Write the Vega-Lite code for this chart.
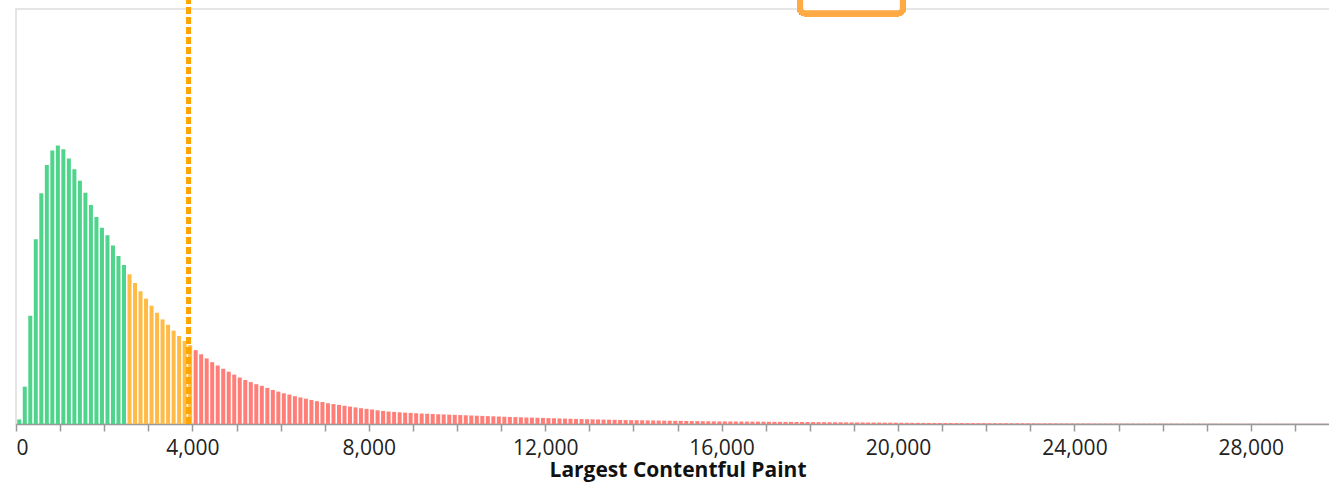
{
  "$schema": "https://vega.github.io/schema/vega-lite/v6.json",
  "autosize": {"type": "none"},
  "padding": {"left": 16, "top": 9, "right": 0, "bottom": 66},
  "width": 1323,
  "height": 415,
  "background": "white",
  "config": {
    "font": "Open Sans",
    "view": {"stroke": "#dddddd", "strokeWidth": 1.5},
    "axis": {"grid": false}
  },
  "data": {"values": [
    {"s":0,"v":1.1,"c":"Good"},{"s":125,"v":9.0,"c":"Good"},{"s":250,"v":26.1,"c":"Good"},{"s":375,"v":44.5,"c":"Good"},
    {"s":500,"v":55.6,"c":"Good"},{"s":625,"v":62.4,"c":"Good"},{"s":750,"v":65.9,"c":"Good"},{"s":875,"v":67.1,"c":"Good"},
    {"s":1000,"v":66.2,"c":"Good"},{"s":1125,"v":64.0,"c":"Good"},{"s":1250,"v":61.4,"c":"Good"},{"s":1375,"v":58.6,"c":"Good"},
    {"s":1500,"v":55.7,"c":"Good"},{"s":1625,"v":52.8,"c":"Good"},{"s":1750,"v":49.9,"c":"Good"},{"s":1875,"v":47.3,"c":"Good"},
    {"s":2000,"v":45.5,"c":"Good"},{"s":2125,"v":43.0,"c":"Good"},{"s":2250,"v":40.5,"c":"Good"},{"s":2375,"v":38.3,"c":"Good"},
    {"s":2500,"v":36.1,"c":"NI"},{"s":2625,"v":34.0,"c":"NI"},{"s":2750,"v":32.0,"c":"NI"},{"s":2875,"v":30.2,"c":"NI"},
    {"s":3000,"v":28.5,"c":"NI"},{"s":3125,"v":26.8,"c":"NI"},{"s":3250,"v":25.2,"c":"NI"},{"s":3375,"v":23.9,"c":"NI"},
    {"s":3500,"v":22.5,"c":"NI"},{"s":3625,"v":21.2,"c":"NI"},{"s":3750,"v":20.0,"c":"NI"},{"s":3875,"v":19.0,"c":"NI"},
    {"s":4000,"v":17.8,"c":"Poor"},{"s":4125,"v":16.8,"c":"Poor"},{"s":4250,"v":15.8,"c":"Poor"},{"s":4375,"v":14.9,"c":"Poor"},
    {"s":4500,"v":14.1,"c":"Poor"},{"s":4625,"v":13.3,"c":"Poor"},{"s":4750,"v":12.6,"c":"Poor"},{"s":4875,"v":11.9,"c":"Poor"},
    {"s":5000,"v":11.2,"c":"Poor"},{"s":5125,"v":10.6,"c":"Poor"},{"s":5250,"v":10.1,"c":"Poor"},{"s":5375,"v":9.6,"c":"Poor"},
    {"s":5500,"v":9.2,"c":"Poor"},{"s":5625,"v":8.7,"c":"Poor"},{"s":5750,"v":8.2,"c":"Poor"},{"s":5875,"v":7.8,"c":"Poor"},
    {"s":6000,"v":7.4,"c":"Poor"},{"s":6125,"v":7.1,"c":"Poor"},{"s":6250,"v":6.7,"c":"Poor"},{"s":6375,"v":6.4,"c":"Poor"},
    {"s":6500,"v":6.1,"c":"Poor"},{"s":6625,"v":5.8,"c":"Poor"},{"s":6750,"v":5.5,"c":"Poor"},{"s":6875,"v":5.3,"c":"Poor"},
    {"s":7000,"v":5.0,"c":"Poor"},{"s":7125,"v":4.8,"c":"Poor"},{"s":7250,"v":4.6,"c":"Poor"},{"s":7375,"v":4.4,"c":"Poor"},
    {"s":7500,"v":4.2,"c":"Poor"},{"s":7625,"v":4.0,"c":"Poor"},{"s":7750,"v":3.8,"c":"Poor"},{"s":7875,"v":3.65,"c":"Poor"},
    {"s":8000,"v":3.5,"c":"Poor"},{"s":8125,"v":3.3,"c":"Poor"},{"s":8250,"v":3.15,"c":"Poor"},{"s":8375,"v":3.0,"c":"Poor"},
    {"s":8500,"v":2.9,"c":"Poor"},{"s":8625,"v":2.82,"c":"Poor"},{"s":8750,"v":2.74,"c":"Poor"},{"s":8875,"v":2.67,"c":"Poor"},
    {"s":9000,"v":2.6,"c":"Poor"},{"s":9125,"v":2.53,"c":"Poor"},{"s":9250,"v":2.47,"c":"Poor"},{"s":9375,"v":2.41,"c":"Poor"},
    {"s":9500,"v":2.35,"c":"Poor"},{"s":9625,"v":2.3,"c":"Poor"},{"s":9750,"v":2.25,"c":"Poor"},{"s":9875,"v":2.2,"c":"Poor"},
    {"s":10000,"v":2.15,"c":"Poor"},{"s":10125,"v":2.1,"c":"Poor"},{"s":10250,"v":2.05,"c":"Poor"},{"s":10375,"v":2.0,"c":"Poor"},
    {"s":10500,"v":1.95,"c":"Poor"},{"s":10625,"v":1.9,"c":"Poor"},{"s":10750,"v":1.85,"c":"Poor"},{"s":10875,"v":1.8,"c":"Poor"},
    {"s":11000,"v":1.75,"c":"Poor"},{"s":11125,"v":1.7,"c":"Poor"},{"s":11250,"v":1.66,"c":"Poor"},{"s":11375,"v":1.62,"c":"Poor"},
    {"s":11500,"v":1.58,"c":"Poor"},{"s":11625,"v":1.54,"c":"Poor"},{"s":11750,"v":1.5,"c":"Poor"},{"s":11875,"v":1.46,"c":"Poor"},
    {"s":12000,"v":1.42,"c":"Poor"},{"s":12125,"v":1.38,"c":"Poor"},{"s":12250,"v":1.34,"c":"Poor"},{"s":12375,"v":1.3,"c":"Poor"},
    {"s":12500,"v":1.26,"c":"Poor"},{"s":12625,"v":1.22,"c":"Poor"},{"s":12750,"v":1.19,"c":"Poor"},{"s":12875,"v":1.16,"c":"Poor"},
    {"s":13000,"v":1.13,"c":"Poor"},{"s":13125,"v":1.1,"c":"Poor"},{"s":13250,"v":1.07,"c":"Poor"},{"s":13375,"v":1.04,"c":"Poor"},
    {"s":13500,"v":1.01,"c":"Poor"},{"s":13625,"v":0.98,"c":"Poor"},{"s":13750,"v":0.95,"c":"Poor"},{"s":13875,"v":0.93,"c":"Poor"},
    {"s":14000,"v":0.91,"c":"Poor"},{"s":14125,"v":0.89,"c":"Poor"},{"s":14250,"v":0.87,"c":"Poor"},{"s":14375,"v":0.85,"c":"Poor"},
    {"s":14500,"v":0.83,"c":"Poor"},{"s":14625,"v":0.81,"c":"Poor"},{"s":14750,"v":0.79,"c":"Poor"},{"s":14875,"v":0.77,"c":"Poor"},
    {"s":15000,"v":0.75,"c":"Poor"},{"s":15125,"v":0.73,"c":"Poor"},{"s":15250,"v":0.71,"c":"Poor"},{"s":15375,"v":0.69,"c":"Poor"},
    {"s":15500,"v":0.67,"c":"Poor"},{"s":15625,"v":0.65,"c":"Poor"},{"s":15750,"v":0.64,"c":"Poor"},{"s":15875,"v":0.63,"c":"Poor"},
    {"s":16000,"v":0.62,"c":"Poor"},{"s":16125,"v":0.61,"c":"Poor"},{"s":16250,"v":0.6,"c":"Poor"},{"s":16375,"v":0.59,"c":"Poor"},
    {"s":16500,"v":0.58,"c":"Poor"},{"s":16625,"v":0.57,"c":"Poor"},{"s":16750,"v":0.56,"c":"Poor"},{"s":16875,"v":0.55,"c":"Poor"},
    {"s":17000,"v":0.54,"c":"Poor"},{"s":17125,"v":0.53,"c":"Poor"},{"s":17250,"v":0.52,"c":"Poor"},{"s":17375,"v":0.51,"c":"Poor"},
    {"s":17500,"v":0.5,"c":"Poor"},{"s":17625,"v":0.49,"c":"Poor"},{"s":17750,"v":0.48,"c":"Poor"},{"s":17875,"v":0.47,"c":"Poor"},
    {"s":18000,"v":0.46,"c":"Poor"},{"s":18125,"v":0.45,"c":"Poor"},{"s":18250,"v":0.44,"c":"Poor"},{"s":18375,"v":0.43,"c":"Poor"},
    {"s":18500,"v":0.42,"c":"Poor"},{"s":18625,"v":0.41,"c":"Poor"},{"s":18750,"v":0.4,"c":"Poor"},{"s":18875,"v":0.39,"c":"Poor"},
    {"s":19000,"v":0.38,"c":"Poor"},{"s":19125,"v":0.37,"c":"Poor"},{"s":19250,"v":0.36,"c":"Poor"},{"s":19375,"v":0.35,"c":"Poor"},
    {"s":19500,"v":0.34,"c":"Poor"},{"s":19625,"v":0.33,"c":"Poor"},{"s":19750,"v":0.32,"c":"Poor"},{"s":19875,"v":0.31,"c":"Poor"},
    {"s":20000,"v":0.3,"c":"Poor"},{"s":20125,"v":0.29,"c":"Poor"},{"s":20250,"v":0.28,"c":"Poor"},{"s":20375,"v":0.27,"c":"Poor"},
    {"s":20500,"v":0.26,"c":"Poor"},{"s":20625,"v":0.25,"c":"Poor"},{"s":20750,"v":0.245,"c":"Poor"},{"s":20875,"v":0.24,"c":"Poor"},
    {"s":21000,"v":0.235,"c":"Poor"},{"s":21125,"v":0.23,"c":"Poor"},{"s":21250,"v":0.225,"c":"Poor"},{"s":21375,"v":0.22,"c":"Poor"},
    {"s":21500,"v":0.215,"c":"Poor"},{"s":21625,"v":0.21,"c":"Poor"},{"s":21750,"v":0.205,"c":"Poor"},{"s":21875,"v":0.2,"c":"Poor"},
    {"s":22000,"v":0.195,"c":"Poor"},{"s":22125,"v":0.19,"c":"Poor"},{"s":22250,"v":0.185,"c":"Poor"},{"s":22375,"v":0.18,"c":"Poor"},
    {"s":22500,"v":0.175,"c":"Poor"},{"s":22625,"v":0.17,"c":"Poor"},{"s":22750,"v":0.165,"c":"Poor"},{"s":22875,"v":0.16,"c":"Poor"},
    {"s":23000,"v":0.155,"c":"Poor"},{"s":23125,"v":0.15,"c":"Poor"},{"s":23250,"v":0.145,"c":"Poor"},{"s":23375,"v":0.14,"c":"Poor"},
    {"s":23500,"v":0.135,"c":"Poor"},{"s":23625,"v":0.13,"c":"Poor"},{"s":23750,"v":0.125,"c":"Poor"},{"s":23875,"v":0.12,"c":"Poor"},
    {"s":24000,"v":0.115,"c":"Poor"},{"s":24125,"v":0.11,"c":"Poor"},{"s":24250,"v":0.105,"c":"Poor"},{"s":24375,"v":0.1,"c":"Poor"},
    {"s":24500,"v":0.097,"c":"Poor"},{"s":24625,"v":0.094,"c":"Poor"},{"s":24750,"v":0.091,"c":"Poor"},{"s":24875,"v":0.088,"c":"Poor"},
    {"s":25000,"v":0.085,"c":"Poor"},{"s":25125,"v":0.082,"c":"Poor"},{"s":25250,"v":0.079,"c":"Poor"},{"s":25375,"v":0.076,"c":"Poor"},
    {"s":25500,"v":0.073,"c":"Poor"},{"s":25625,"v":0.07,"c":"Poor"},{"s":25750,"v":0.068,"c":"Poor"},{"s":25875,"v":0.066,"c":"Poor"},
    {"s":26000,"v":0.064,"c":"Poor"},{"s":26125,"v":0.062,"c":"Poor"},{"s":26250,"v":0.06,"c":"Poor"},{"s":26375,"v":0.058,"c":"Poor"},
    {"s":26500,"v":0.056,"c":"Poor"},{"s":26625,"v":0.054,"c":"Poor"},{"s":26750,"v":0.052,"c":"Poor"},{"s":26875,"v":0.05,"c":"Poor"},
    {"s":27000,"v":0.049,"c":"Poor"},{"s":27125,"v":0.048,"c":"Poor"},{"s":27250,"v":0.047,"c":"Poor"},{"s":27375,"v":0.046,"c":"Poor"},
    {"s":27500,"v":0.045,"c":"Poor"},{"s":27625,"v":0.044,"c":"Poor"},{"s":27750,"v":0.043,"c":"Poor"},{"s":27875,"v":0.042,"c":"Poor"},
    {"s":28000,"v":0.041,"c":"Poor"},{"s":28125,"v":0.04,"c":"Poor"},{"s":28250,"v":0.039,"c":"Poor"},{"s":28375,"v":0.038,"c":"Poor"},
    {"s":28500,"v":0.037,"c":"Poor"},{"s":28625,"v":0.036,"c":"Poor"},{"s":28750,"v":0.035,"c":"Poor"},{"s":28875,"v":0.034,"c":"Poor"},
    {"s":29000,"v":0.033,"c":"Poor"},{"s":29125,"v":0.032,"c":"Poor"},{"s":29250,"v":0.031,"c":"Poor"},{"s":29375,"v":0.03,"c":"Poor"},
    {"s":29500,"v":0.03,"c":"Poor"},{"s":29625,"v":0.03,"c":"Poor"},{"s":29750,"v":0.03,"c":"Poor"},{"s":29875,"v":0.03,"c":"Poor"}
  ]},
  "layer": [
    {
      "mark": {"type": "bar", "binSpacing": 1.5},
      "encoding": {
        "x": {
          "field": "s", "type": "quantitative",
          "bin": {"binned": true, "step": 125},
          "scale": {"domain": [0, 30000], "nice": false, "zero": false},
          "axis": {
            "title": "Largest Contentful Paint",
            "values": [0,1000,2000,3000,4000,5000,6000,7000,8000,9000,10000,11000,12000,13000,14000,15000,16000,17000,18000,19000,20000,21000,22000,23000,24000,25000,26000,27000,28000,29000,30000],
            "labelExpr": "datum.value % 4000 === 0 ? format(datum.value, ',') : ''",
            "labelOverlap": false,
            "labelFont": "Open Sans",
            "labelFontSize": 21,
            "labelColor": "#222222",
            "labelPadding": 6,
            "domainColor": "#999999",
            "domainWidth": 1.5,
            "tickColor": "#999999",
            "tickWidth": 1.5,
            "tickSize": 7,
            "titleFont": "Open Sans",
            "titleFontSize": 21,
            "titleFontWeight": "bold",
            "titleColor": "#111111",
            "titlePadding": 1
          }
        },
        "y": {"field": "v", "type": "quantitative", "scale": {"domain": [0, 100], "nice": false}, "axis": null},
        "color": {
          "field": "c", "type": "nominal",
          "scale": {"domain": ["Good", "NI", "Poor"], "range": ["#4fd48b", "#ffbb45", "#ff7f78"]},
          "legend": null
        }
      }
    },
    {
      "mark": {"type": "rule", "color": "#ffa400", "strokeWidth": 3.5, "strokeDash": [7, 3]},
      "encoding": {
        "x": {"datum": 3915, "type": "quantitative"},
        "y": {"datum": 0, "type": "quantitative"},
        "y2": {"datum": 103}
      }
    },
    {
      "mark": {"type": "rect", "fill": "white", "stroke": "#ffaa45", "strokeWidth": 6, "cornerRadius": 5},
      "encoding": {
        "x": {"datum": 17780, "type": "quantitative"},
        "x2": {"datum": 20110},
        "y": {"datum": 99.0, "type": "quantitative"},
        "y2": {"datum": 115}
      }
    }
  ]
}
